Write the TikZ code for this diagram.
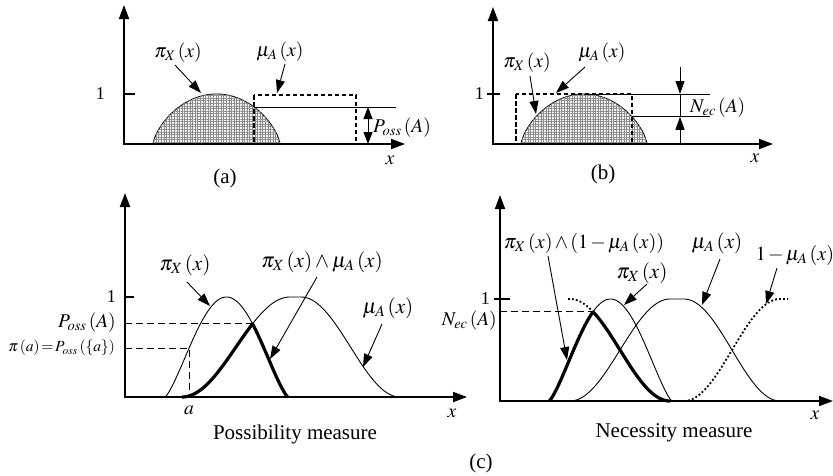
\documentclass[tikz,border=0pt]{standalone}
\usepackage{mathptmx}
\usepackage{fontspec}
\setmainfont{Liberation Serif}
\usetikzlibrary{arrows.meta,patterns.meta}
\begin{document}
\begin{tikzpicture}[x=1pt,y=-1pt,
  axisarr/.style={line width=1.8pt,-{Triangle[length=14pt,width=10pt]}},
  axisline/.style={line width=1.8pt},
  annarr/.style={line width=0.9pt,-{Triangle[length=13pt,width=9pt]}},
  annboth/.style={line width=0.9pt,{Triangle[length=12pt,width=9pt]}-{Triangle[length=12pt,width=9pt]}},
  thincurve/.style={line width=0.9pt},
  thickcurve/.style={line width=3.2pt,line join=round},
  guideline/.style={line width=0.9pt,dash pattern=on 7pt off 4pt},
  dashbox/.style={line width=1.8pt,dash pattern=on 4.5pt off 2.5pt},
  dotline/.style={line width=1.8pt,dash pattern=on 1.8pt off 2.2pt},
  hatchfill/.style={pattern={Hatch[distance=2.6pt,angle=0,line width=0.3pt]},pattern color=black!45},
  labA/.style={inner sep=0pt,font=\fontsize{19.5}{22}\selectfont},
  labC/.style={inner sep=0pt,font=\fontsize{21}{24}\selectfont},
  labM/.style={inner sep=0pt,font=\fontsize{20}{23}\selectfont},
  labS/.style={inner sep=0pt,font=\fontsize{15.5}{17}\selectfont},
  labOne/.style={inner sep=0pt,font=\fontsize{18}{20}\selectfont},
  capt/.style={inner sep=0pt,font=\fontsize{21}{24}\selectfont},
  declare function={
    sm(\t)=0.5-0.5*cos(180*min(max(\t,0),1));
    piL(\x)=pow(max(sin(((\x-165)/123)*180),0.01),1.3);
    muL(\x)=sm((\x-182)/108)*(1-sm((\x-301)/99));
    piR(\x)=pow(max(sin(((\x-549)/123)*180),0.01),1.3);
    muR(\x)=sm((\x-570)/100)*(1-sm((\x-684)/96));
    domeA(\x)=pow(max(1-\x*\x,0.002),0.7);
  }]
\useasboundingbox (0,0) rectangle (833,475);

% ---------------- panel (a)
\draw[thincurve,fill=gray!6,postaction={hatchfill}]
  plot[domain=-1:1,samples=81] ({216.5+63.5*\x},{144-50*domeA(\x)}) -- cycle;
\draw[dashbox] (254,95) rectangle (356,144);
\draw[thincurve] (254,107) -- (396,107);
\coordinate (oa) at (124,144);
\coordinate (xa-end) at (405,144);
\coordinate (ya-end) at (124,5);
\draw[axisarr] (oa) -- (xa-end);
\draw[axisarr] ([yshift=-0.9pt]oa) -- (ya-end);
\draw[axisline] (124,94) -- (135,94);
\node[labOne,anchor=east] (onea) at (105,94) {1};
\node[labA] (pia) at (178,53) {$\pi_{X}\,(x)$};
\coordinate (pia-s) at (175,65); \coordinate (pia-t) at (201,93);
\draw[annarr] (pia-s) -- (pia-t);
\node[labA] (mua) at (280,52) {$\mu_A\,(x)$};
\coordinate (mua-s) at (285,64); \coordinate (mua-t) at (277,93);
\draw[annarr] (mua-s) -- (mua-t);
\coordinate (pa-top) at (368,107); \coordinate (pa-bot) at (368,144);
\draw[annboth] (pa-top) -- (pa-bot);
\node[labA,anchor=west] (posa) at (373,128) {$P_{oss}\,(A)$};
\node[labA] (xla) at (390,160) {$x$};
\node[capt] (capa) at (225,178) {(a)};

% ---------------- panel (b)
\draw[thincurve,fill=gray!6,postaction={hatchfill}]
  plot[domain=-1:1,samples=81] ({584+63*\x},{144-50*domeA(\x)}) -- cycle;
\draw[dashbox] (516,94) rectangle (632,144);
\draw[thincurve] (584,94) -- (710,94);
\draw[thincurve] (632,116.8) -- (710,116.8);
\coordinate (ob) at (493,144);
\coordinate (xb-end) at (773,144);
\coordinate (yb-end) at (493,7);
\draw[axisarr] (ob) -- (xb-end);
\draw[axisarr] ([yshift=-0.9pt]ob) -- (yb-end);
\draw[axisline] (487,94) -- (500,94);
\node[labOne,anchor=east] (oneb) at (484,94) {1};
\coordinate (nb-top) at (680,67); \coordinate (nb-a) at (680,94);
\coordinate (nb-bot) at (680,144); \coordinate (nb-b) at (680,116.8);
\draw[annarr] (nb-top) -- (nb-a);
\draw[annarr] (nb-bot) -- (nb-b);
\draw[thincurve] (nb-a) -- (nb-b);
\node[labA,anchor=west] (necb) at (690,108) {$N_{ec}\,(A)$};
\node[labA] (pib) at (527,63) {$\pi_X\,(x)$};
\coordinate (pib-s) at (530,76); \coordinate (pib-t) at (536,114);
\draw[annarr] (pib-s) -- (pib-t);
\node[labA] (mub) at (602,53) {$\mu_A\,(x)$};
\coordinate (mub-s) at (585,67); \coordinate (mub-t) at (556,93);
\draw[annarr] (mub-s) -- (mub-t);
\node[labA] (xlb) at (755,158) {$x$};
\node[capt] (capb) at (603,174) {(b)};

% ---------------- panel (c) left
\draw[guideline] (125,323.8) -- (252.5,323.8);
\draw[guideline] (125,348.3) -- (189,348.3) -- (189,397);
\draw[thincurve] plot[domain=165:288,samples=150] (\x,{397-100*piL(\x)});
\draw[thincurve] plot[domain=182:400,samples=200] (\x,{397-100*muL(\x)});
\draw[thickcurve] plot[domain=182:288,samples=150] (\x,{397-100*min(piL(\x),muL(\x))});
\coordinate (ocl) at (125,397);
\coordinate (xcl-end) at (467,397);
\coordinate (ycl-end) at (125,193);
\draw[axisarr] (ocl) -- (xcl-end);
\draw[axisarr] ([yshift=-0.9pt]ocl) -- (ycl-end);
\draw[axisline] (125,297) -- (134,297);
\node[labOne,anchor=east] (onecl) at (116,297) {1};
\node[labA,anchor=east] (poscl) at (116,323) {$P_{oss}\,(A)$};
\node[labS,anchor=east] (pacl) at (115,348) {$\pi\,(a)\!=\!P_{oss}\,(\{a\})$};
\node[labA] (acl) at (189,410) {$a$};
\node[labC] (picl) at (185,265) {$\pi_X\,(x)$};
\coordinate (picl-s) at (187,282); \coordinate (picl-t) at (210,306);
\draw[annarr] (picl-s) -- (picl-t);
\node[labC] (mincl) at (322,262) {$\pi_X\,(x)\wedge\mu_A\,(x)$};
\coordinate (mincl-s) at (317,277); \coordinate (mincl-t) at (270,359);
\draw[annarr] (mincl-s) -- (mincl-t);
\node[labC] (mucl) at (388,308) {$\mu_A\,(x)$};
\coordinate (mucl-s) at (382,324); \coordinate (mucl-t) at (363,367);
\draw[annarr] (mucl-s) -- (mucl-t);
\node[labA] (xlcl) at (452,413) {$x$};
\node[capt] (possm) at (295,434) {Possibility measure};

% ---------------- panel (c) right
\draw[guideline] (500,311.8) -- (593,311.8);
\draw[thincurve] plot[domain=549:672,samples=150] (\x,{401-102*piR(\x)});
\draw[thincurve] plot[domain=570:780,samples=200] (\x,{401-102*muR(\x)});
\draw[dotline] plot[domain=568:788,samples=200] (\x,{401-102*(1-muR(\x))});
\draw[thickcurve] plot[domain=549:670,samples=150] (\x,{401-102*min(piR(\x),1-muR(\x))});
\coordinate (ocr) at (500,401);
\coordinate (xcr-end) at (833,401);
\coordinate (ycr-end) at (500,195);
\draw[axisarr] (ocr) -- (xcr-end);
\draw[axisarr] ([yshift=-0.9pt]ocr) -- (ycr-end);
\draw[axisline] (494,299) -- (510,299);
\node[labOne,anchor=east] (onecr) at (490,299) {1};
\node[labA,anchor=east] (neccr) at (497,321) {$N_{ec}\,(A)$};
\node[labM] (mincr) at (584,243) {$\medmuskip=2mu \pi_X\,(x)\wedge(1-\mu_A\,(x))$};
\coordinate (mincr-s) at (548,256); \coordinate (mincr-t) at (567,360);
\draw[annarr] (mincr-s) -- (mincr-t);
\node[labC] (picr) at (642,273) {$\pi_X\,(x)$};
\coordinate (picr-s) at (647,284); \coordinate (picr-t) at (624,305);
\draw[annarr] (picr-s) -- (picr-t);
\node[labC] (mucr) at (717,243) {$\mu_A\,(x)$};
\coordinate (mucr-s) at (720,259); \coordinate (mucr-t) at (702,305);
\draw[annarr] (mucr-s) -- (mucr-t);
\node[labM] (cmucr) at (795,255) {$\medmuskip=2mu 1-\mu_A\,(x)$};
\coordinate (cmucr-s) at (777,268); \coordinate (cmucr-t) at (766,304);
\draw[annarr] (cmucr-s) -- (cmucr-t);
\node[labA] (xlcr) at (815,415) {$x$};
\node[capt] (necm) at (674,433) {Necessity measure};
\node[capt] (capc) at (481,463) {(c)};
\end{tikzpicture}
\end{document}
